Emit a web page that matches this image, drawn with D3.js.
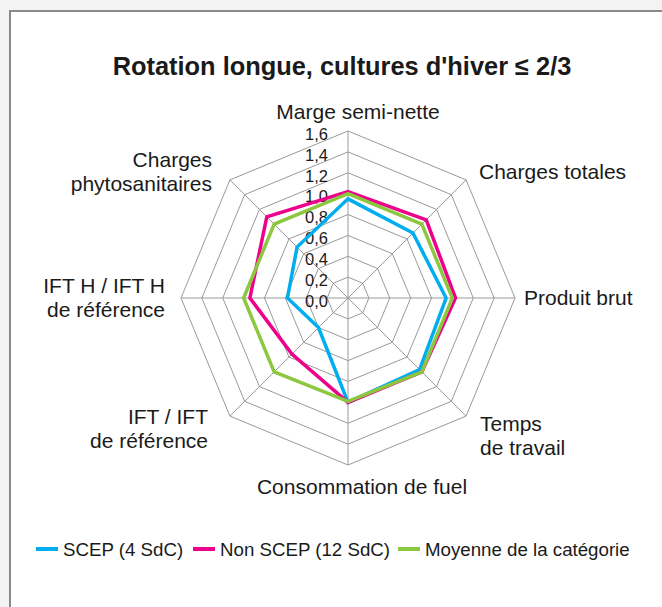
<!DOCTYPE html>
<html>
<head>
<meta charset="utf-8">
<script src="https://cdn.jsdelivr.net/npm/d3@7"></script>
<style>
  body { margin: 0; background: #f3f3f3; }
  svg { display: block; font-family: "Liberation Sans", Arial, sans-serif; }
</style>
</head>
<body>
<div id="chart"></div>
<script>
  // axes clockwise from the top
  const axes = [
    ['Marge semi-nette'],
    ['Charges totales'],
    ['Produit brut'],
    ['Temps', 'de travail'],
    ['Consommation de fuel'],
    ['IFT / IFT', 'de référence'],
    ['IFT H / IFT H', 'de référence'],
    ['Charges', 'phytosanitaires']
  ];
  const ticks = [0, 0.2, 0.4, 0.6, 0.8, 1.0, 1.2, 1.4, 1.6];

  const scep     = [0.95, 0.88, 0.94, 0.97, 1.00, 0.40, 0.58, 0.69];
  const nonScep  = [1.02, 1.06, 1.03, 1.00, 1.00, 0.76, 0.94, 1.10];
  const moyenne  = [1.00, 1.00, 1.00, 1.00, 0.99, 1.00, 1.00, 1.00];

  const seriesNames = ['SCEP (4 SdC)', 'Non SCEP (12 SdC)', 'Moyenne de la catégorie'];
  const colors = ['#00aeef', '#ec008c', '#8dc63f'];

  let width = 662, height = 607,
      cx = 348, cy = 298,
      svg = d3.select('#chart').append('svg')
        .attr('width', width)
        .attr('height', height);

  // frame
  svg.append('rect')
    .attr('x', 10).attr('y', 11)
    .attr('width', 700).attr('height', 700)
    .attr('fill', '#fff')
    .attr('stroke', '#8a8a8a')
    .attr('stroke-width', 2);

  svg.append('text')
    .attr('x', 342).attr('y', 75)
    .attr('text-anchor', 'middle')
    .style('font-size', '25.4px')
    .style('font-weight', 'bold')
    .attr('fill', '#1a1a1a')
    .text("Rotation longue, cultures d'hiver ≤ 2/3");

  let r = d3.scaleLinear().domain([0, 1.6]).range([0, 167]),
      angle = i => i * Math.PI / 4,
      g = svg.append('g').attr('transform', `translate(${cx},${cy})`);

  // grid rings
  g.selectAll('.ring')
    .data(ticks.slice(1))
    .enter()
    .append('path')
    .attr('class', 'ring')
    .attr('d', v => d3.lineRadial()
      .angle((d, i) => angle(i))
      .radius(() => r(v))
      .curve(d3.curveLinearClosed)(axes))
    .attr('fill', 'none')
    .attr('stroke', '#9a9a9a')
    .attr('stroke-width', 1);

  // spokes
  g.selectAll('.spoke')
    .data(axes)
    .enter()
    .append('line')
    .attr('x2', (d, i) => r(1.6) * Math.sin(angle(i)))
    .attr('y2', (d, i) => -r(1.6) * Math.cos(angle(i)))
    .attr('stroke', '#9a9a9a')
    .attr('stroke-width', 1);

  // tick labels
  g.selectAll('.tick')
    .data(ticks)
    .enter()
    .append('text')
    .attr('x', -20)
    .attr('y', v => -r(v) + 3)
    .attr('dy', '0.35em')
    .attr('text-anchor', 'end')
    .style('font-size', '16.5px')
    .attr('fill', '#1a1a1a')
    .text(v => d3.format('.1f')(v).replace('.', ','));

  // series
  [scep, nonScep, moyenne].forEach((s, k) => {
    g.append('path')
      .attr('d', d3.lineRadial()
        .angle((d, i) => angle(i))
        .radius(d => r(d))
        .curve(d3.curveLinearClosed)(s))
      .attr('fill', 'none')
      .attr('stroke', colors[k])
      .attr('stroke-width', 3.5)
      .attr('stroke-linejoin', 'miter');
  });

  // axis labels: [x, y of first baseline, anchor]
  const labelPos = [
    [358, 119, 'middle'],
    [479, 179, 'start'],
    [524, 305, 'start'],
    [480, 431, 'start'],
    [362, 494, 'middle'],
    [208, 424, 'end'],
    [165, 293, 'end'],
    [212, 167, 'end']
  ];
  axes.forEach((lines, i) => {
    let t = svg.append('text')
      .attr('x', labelPos[i][0])
      .attr('y', labelPos[i][1])
      .attr('text-anchor', labelPos[i][2])
      .style('font-size', '21px')
      .attr('fill', '#1a1a1a');
    lines.forEach((l, j) => {
      t.append('tspan')
        .attr('x', labelPos[i][0])
        .attr('dy', j ? 24 : 0)
        .text(l);
    });
  });

  // legend
  const legendX = [36, 193, 398];
  seriesNames.forEach((n, k) => {
    let lg = svg.append('g').attr('transform', `translate(${legendX[k]},549)`);
    lg.append('line')
      .attr('x2', 22)
      .attr('stroke', colors[k])
      .attr('stroke-width', 4);
    lg.append('text')
      .attr('x', 27)
      .attr('dy', '0.35em')
      .style('font-size', '18.7px')
      .attr('fill', '#1a1a1a')
      .text(n);
  });
</script>
</body>
</html>
